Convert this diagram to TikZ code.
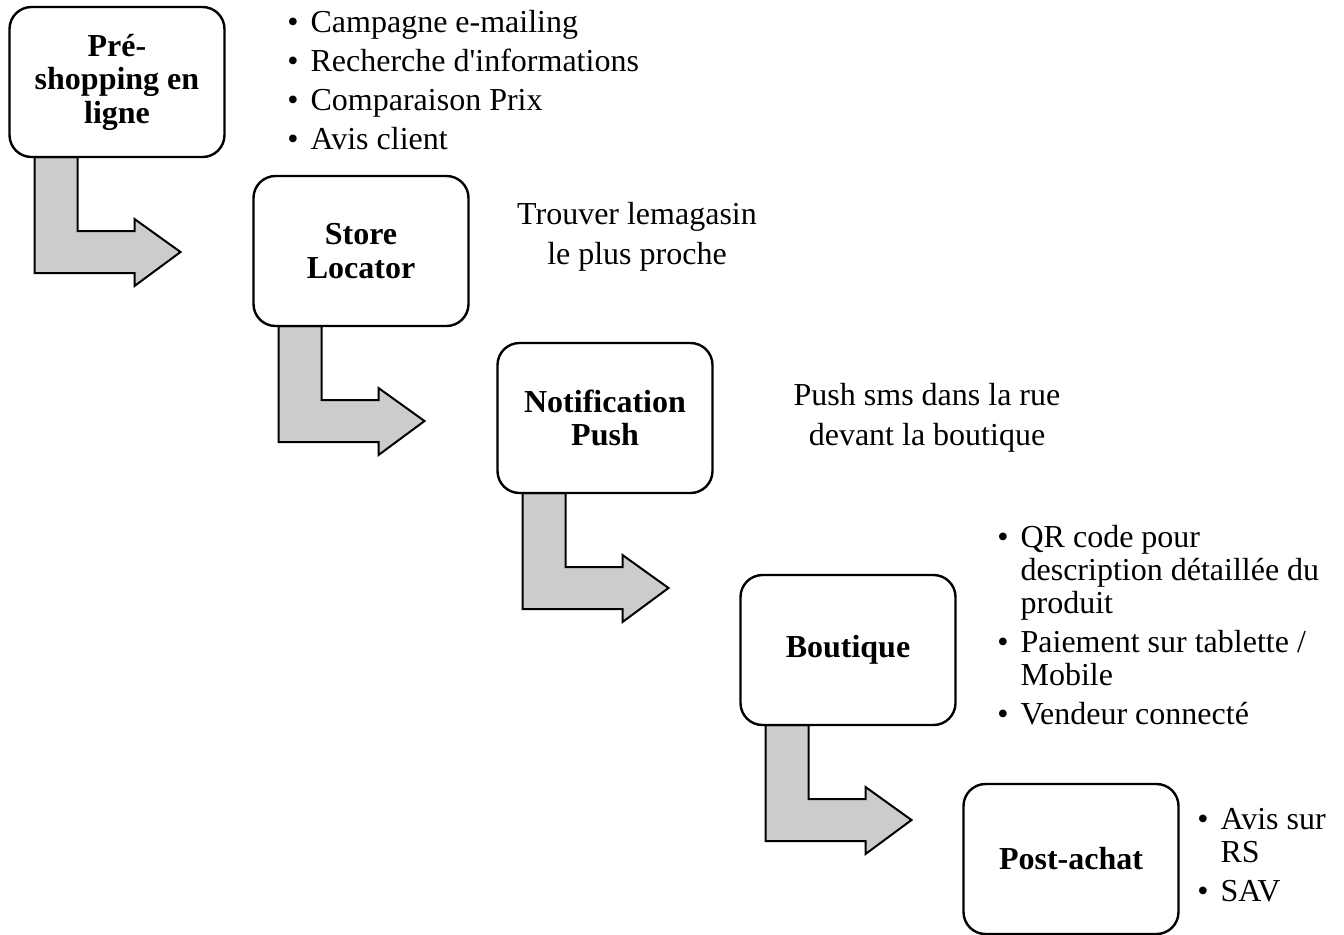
\documentclass[tikz,border=0pt]{standalone}
\usepackage{fontspec}
\setmainfont{Liberation Serif}
\usetikzlibrary{backgrounds}
\definecolor{arrowgray}{RGB}{204,204,204}
\tikzstyle{stage}=[draw, fill=white, rounded corners=11pt, line width=1.2pt, outer sep=0pt, minimum width=107.5pt, minimum height=75pt, align=center, font=\fontsize{16}{16.75}\selectfont\bfseries]
\tikzset{note/.style={align=center, font=\fontsize{16}{20}\selectfont}}
\tikzset{bullets/.style={anchor=west, inner sep=0pt, font=\fontsize{16}{16.5}\selectfont}}
\tikzset{bentarrow/.pic={
    \draw[fill=arrowgray, line width=1pt, line join=miter]
      (25,0) -- (68,0) -- (68,74) -- (125,74) -- (125,62) -- (171,95)
      -- (125,129) -- (125,116) -- (25,116) -- cycle;
  }}

\begin{document}
\begin{tikzpicture}[x=0.5pt, y=-0.5pt]
  \useasboundingbox (0,0) rectangle (1344,934);

  \draw (117,82) node[stage] (S1) {Pré-\\shopping en\\ligne};
  \draw (361,251) node[stage] (S2) {Store\\Locator};
  \draw (605,418) node[stage] (S3) {Notification\\Push};
  \draw (848,650) node[stage] (S4) {Boutique};
  \draw (1071,859) node[stage] (S5) {Post-achat};

  %% bent arrows behind the boxes
  \begin{scope}[on background layer]
    \pic at (S1.south west) {bentarrow};
    \pic at (S2.south west) {bentarrow};
    \pic at (S3.south west) {bentarrow};
    \pic at (S4.south west) {bentarrow};
  \end{scope}

  %% side texts
  \draw (287,84) node[bullets] (L1) {\begin{tabular}{@{}l@{\hspace{6pt}}l@{}}
      • & Campagne e-mailing\\[3pt]
      • & Recherche d\textquotesingle informations\\[3pt]
      • & Comparaison Prix\\[3pt]
      • & Avis client
    \end{tabular}};
  \draw (637,237) node[note] (N2) {Trouver lemagasin\\le plus proche};
  \draw (927,418) node[note] (N3) {Push sms dans la rue\\devant la boutique};
  \draw (997,629) node[bullets] (L4) {\begin{tabular}{@{}l@{\hspace{6pt}}l@{}}
      • & QR code pour\\
        & description détaillée du\\
        & produit\\[3pt]
      • & Paiement sur tablette /\\
        & Mobile\\[3pt]
      • & Vendeur connecté
    \end{tabular}};
  \draw (1197,859) node[bullets] (L5) {\begin{tabular}{@{}l@{\hspace{6pt}}l@{}}
      • & Avis sur\\
        & RS\\[3pt]
      • & SAV
    \end{tabular}};
\end{tikzpicture}
\end{document}
